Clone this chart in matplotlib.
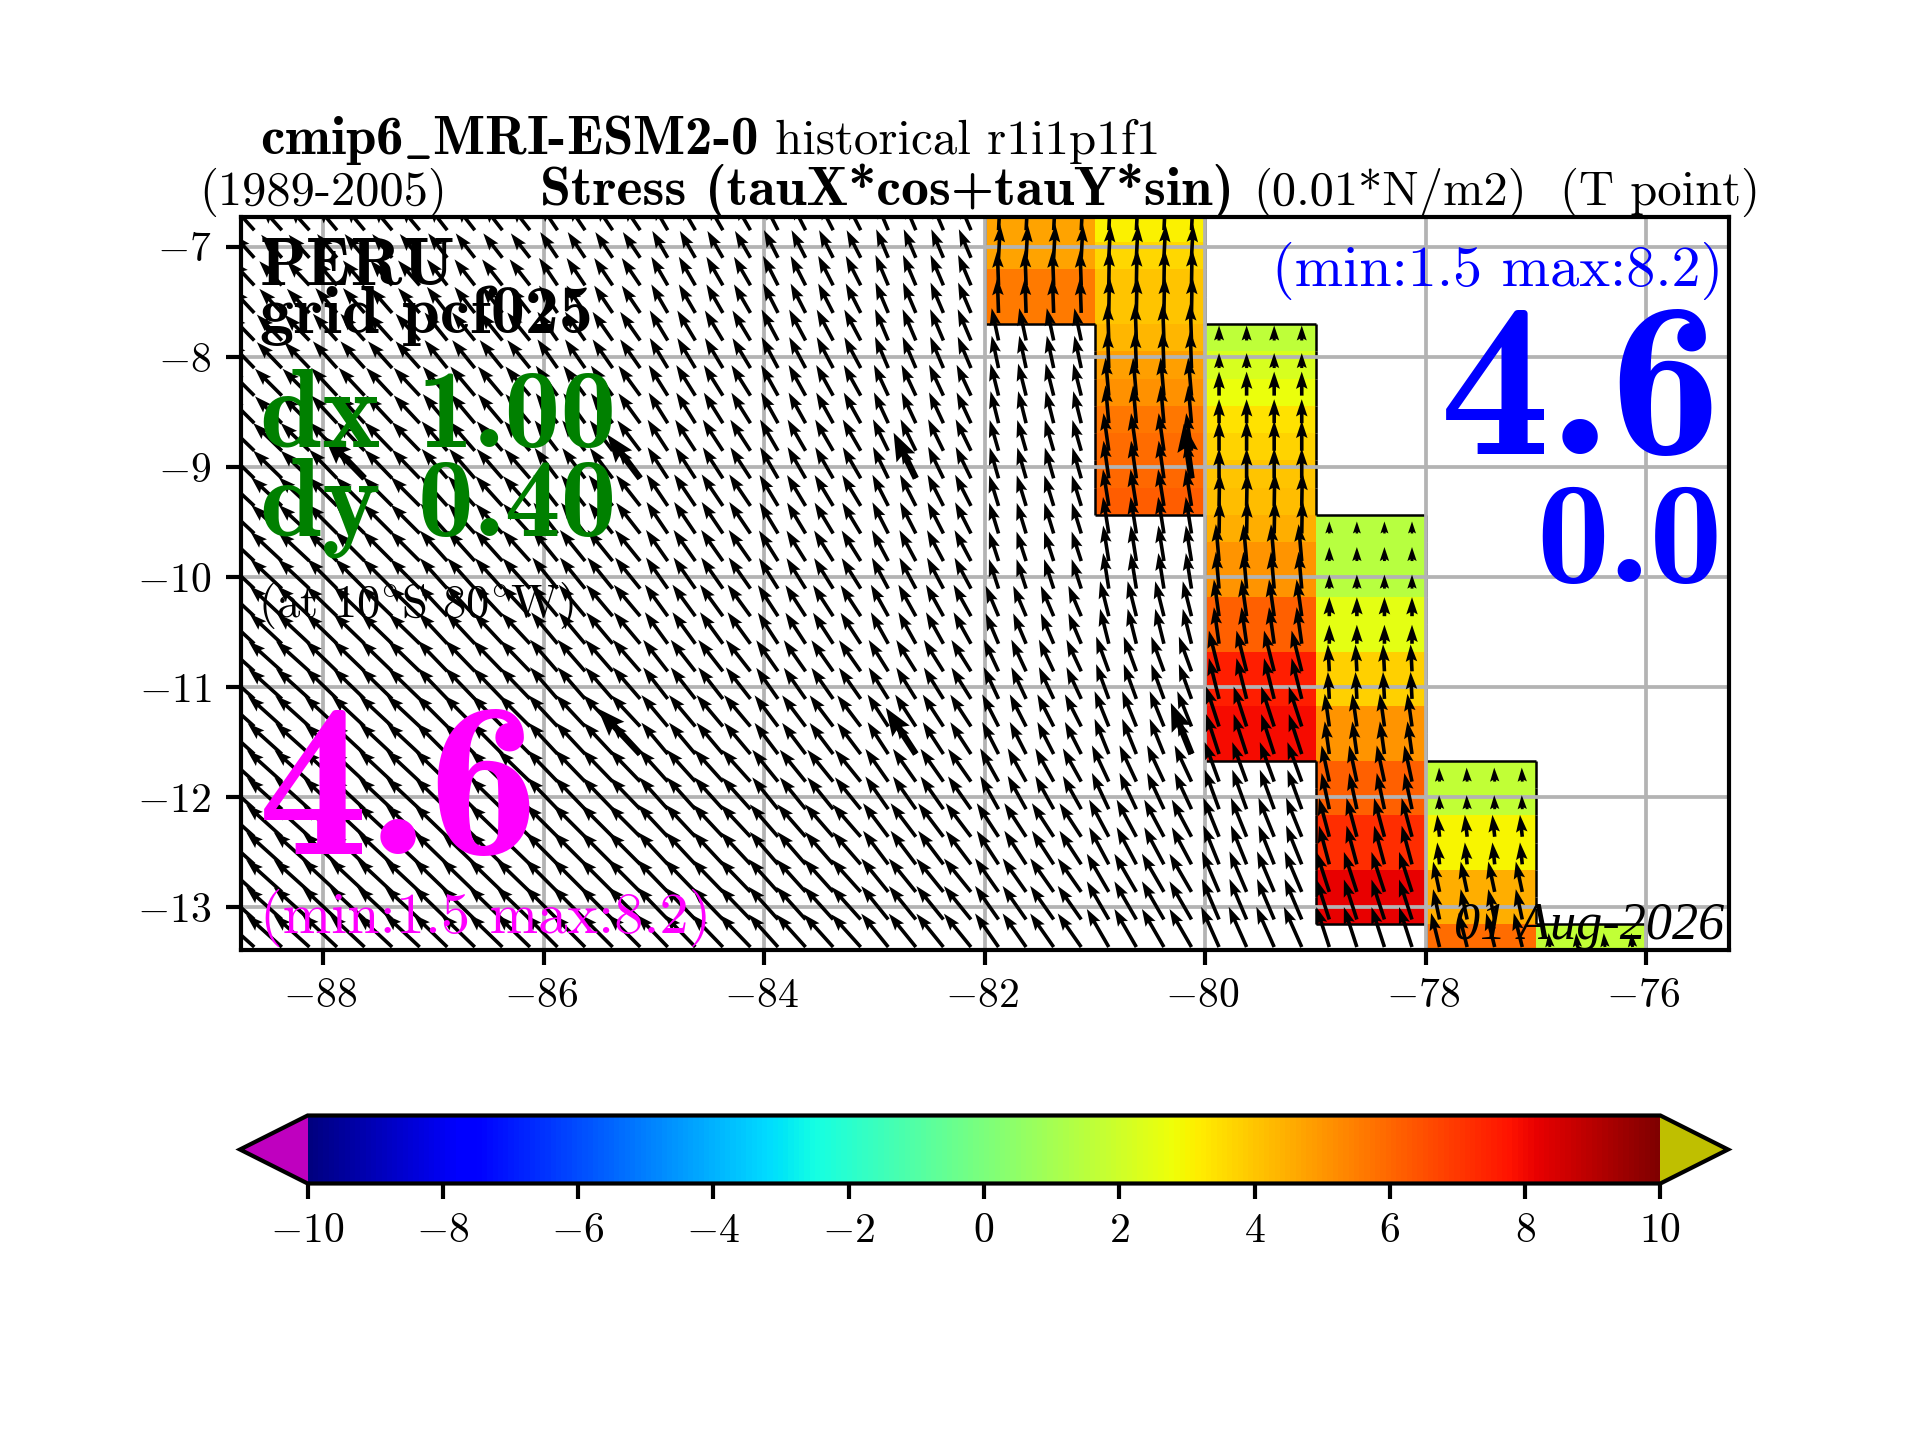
import numpy as np
import matplotlib
matplotlib.use("Agg")
import matplotlib.pyplot as plt
from matplotlib.collections import LineCollection
from matplotlib.transforms import ScaledTranslation

plt.rcParams['font.family'] = ['cmr10']
plt.rcParams['mathtext.fontset'] = 'cm'
plt.rcParams['axes.formatter.use_mathtext'] = True
plt.rcParams['axes.unicode_minus'] = True

# --- data -------------------------------------------------------------------
cell_lon_edges = [-82, -81, -80, -79, -78, -77, -76]
cell_lat_top = -6.71
cell_dlat = 0.248
n_rows = 27
# first row index and coloured values (top to bottom) of each 1-degree column
col_first = [0, 0, 4, 11, 20, 26]
col_vals = [
    [4.7, 4.7, 5.6, 5.6],
    [3.1, 3.6, 4.0, 4.0, 4.3, 4.8, 5.1, 5.7, 5.9, 6.0, 6.2],
    [1.6, 2.2, 2.7, 3.4, 3.7, 4.0, 4.2, 4.5, 5.0, 5.0, 6.1, 6.1, 7.5, 7.5, 7.9, 7.9],
    [1.45, 1.45, 1.45, 2.5, 2.5, 3.8, 3.8, 5.0, 5.0, 6.1, 6.1, 7.2, 7.2, 8.2, 8.2],
    [1.7, 1.7, 3.0, 3.0, 4.5, 4.5, 5.9],
    [1.7],
]

# arrow field: 1-degree columns, 0.5-degree rows
arrow_lon0 = -88.625
arrow_dlon = 0.25
arrow_lat0 = -6.85
arrow_dlat = 0.2505
col_repeat = [3] + [4] * 12
row_repeat = [2] * 13 + [1]
# angle of arrows from north towards west (degrees)
angle_tbl = [
    [42, 40, 38, 34, 30, 27, 23, -3, -3, 0, 0, 0, 0],
    [43, 41, 38, 34, 30, 27, 23, 2, -1, 0, 0, 0, 0],
    [44, 42, 39, 35, 31, 28, 23, 12, 2, 0, 0, 0, 0],
    [45, 43, 40, 36, 32, 29, 25, 14, 5, 0, 0, 0, 0],
    [46, 44, 41, 37, 33, 30, 26, 16, 8, 0, 0, 0, 0],
    [47, 45, 42, 38, 34, 31, 27, 17, 9, -1, 0, 0, 0],
    [47, 45, 42, 39, 35, 32, 28, 18, 9, 5, 0, 0, 0],
    [47, 46, 43, 40, 36, 33, 29, 23, 14, 8, 0, 0, 0],
    [48, 46, 44, 41, 38, 35, 32, 25, 20, 14, 3, 0, 0],
    [48, 47, 45, 43, 40, 37, 33, 27, 22, 18, 8, 0, 0],
    [48, 47, 46, 44, 42, 39, 35, 29, 25, 20, 12, 2, 0],
    [48, 47, 46, 45, 43, 41, 37, 33, 28, 22, 15, 6, 0],
    [48, 47, 46, 45, 44, 42, 39, 35, 30, 23, 18, 12, 0],
    [48, 47, 46, 45, 44, 42, 39, 35, 30, 24, 18, 14, 5],
]
# arrow lengths
length_tbl = [
    [31, 31, 31, 31, 31, 31, 31, 33, 33, 0, 0, 0, 0],
    [33, 33, 33, 33, 33, 33, 33, 35, 36, 0, 0, 0, 0],
    [36, 36, 36, 35, 35, 35, 34, 33, 37, 15, 0, 0, 0],
    [38, 38, 38, 37, 36, 35, 34, 33, 38, 24, 0, 0, 0],
    [40, 40, 39, 38, 37, 36, 35, 32, 38, 30, 0, 0, 0],
    [42, 41, 40, 39, 38, 36, 35, 32, 37, 33, 12, 0, 0],
    [43, 42, 41, 40, 38, 36, 35, 31, 36, 37, 14, 0, 0],
    [44, 43, 42, 41, 39, 37, 36, 33, 36, 37, 19, 0, 0],
    [45, 44, 43, 42, 40, 38, 37, 35, 37, 42, 27, 0, 0],
    [46, 45, 44, 43, 41, 39, 38, 36, 38, 42, 33, 0, 0],
    [47, 46, 45, 44, 43, 41, 40, 38, 40, 42, 37, 14, 0],
    [48, 47, 46, 45, 44, 43, 42, 40, 42, 42, 40, 22, 0],
    [48, 48, 47, 46, 45, 44, 43, 41, 44, 44, 42, 31, 0],
    [48, 48, 47, 46, 45, 44, 43, 41, 44, 44, 42, 35, 14],
]
# easternmost arrow column (longitude bound) for each row
east_bound = [-80] * 4 + [-79] * 7 + [-78] * 9 + [-77] * 6 + [-76]
# sparse set of heavier arrows (row, column)
big_rows = [9, 9, 9, 9, 19, 19, 19]
big_cols = [4, 14, 24, 34, 14, 24, 34]
big_stretch = 1.45

x_ticks = [-88, -86, -84, -82, -80, -78, -76]
y_ticks = [-7, -8, -9, -10, -11, -12, -13]
cbar_ticks = [-10, -8, -6, -4, -2, 0, 2, 4, 6, 8, 10]

# --- figure -----------------------------------------------------------------
W, H = 1920, 1440
fig = plt.figure(figsize=(6.4, 4.8), dpi=300)
ax = fig.add_axes([240.5 / W, 1 - 950 / H, (1729 - 240.5) / W, (950 - 217) / H])
ax.set_xlim(-88.75, -75.25)
ax.set_ylim(-13.39, -6.73)

# cell field
lat_edges = cell_lat_top - cell_dlat * np.arange(n_rows + 1)
Z = np.full((n_rows, len(cell_lon_edges) - 1), np.nan)
for j, (first, vals) in enumerate(zip(col_first, col_vals)):
    Z[first:first + len(vals), j] = vals
Zm = np.ma.masked_invalid(Z)
cmap = plt.get_cmap('jet').copy()
cmap.set_under((0.75, 0, 0.75))
cmap.set_over((0.75, 0.75, 0))
mesh = ax.pcolormesh(cell_lon_edges, lat_edges, Zm, cmap=cmap, vmin=-10, vmax=10, zorder=1)

# outline of coloured cells
segs = []
P = np.pad(~np.isnan(Z), 1, constant_values=False)
for r in range(n_rows + 1):
    for c in range(len(cell_lon_edges) - 1):
        if P[r, c + 1] != P[r + 1, c + 1]:
            segs.append([(cell_lon_edges[c], lat_edges[r]), (cell_lon_edges[c + 1], lat_edges[r])])
for r in range(n_rows):
    for c in range(len(cell_lon_edges)):
        if P[r + 1, c] != P[r + 1, c + 1]:
            segs.append([(cell_lon_edges[c], lat_edges[r]), (cell_lon_edges[c], lat_edges[r + 1])])
ax.add_collection(LineCollection(segs, colors='k', linewidths=0.6, zorder=2))

# arrows
ang = np.repeat(np.repeat(np.array(angle_tbl, float), row_repeat, axis=0), col_repeat, axis=1)
spd = np.repeat(np.repeat(np.array(length_tbl, float), row_repeat, axis=0), col_repeat, axis=1)
lons = arrow_lon0 + arrow_dlon * np.arange(ang.shape[1])
lats = arrow_lat0 - arrow_dlat * np.arange(ang.shape[0])
LON, LAT = np.meshgrid(lons, lats)
U = -spd * np.sin(np.radians(ang))
V = spd * np.cos(np.radians(ang))
keep = (LON < np.array(east_bound)[:, None]) & (spd > 0)
ax.quiver(LON[keep], LAT[keep], U[keep], V[keep], angles='uv', scale_units='dots', scale=1,
          units='dots', width=3.6, headwidth=3.2, headlength=4.8, headaxislength=4.2,
          color='k', zorder=3)
ax.quiver(LON[big_rows, big_cols], LAT[big_rows, big_cols],
          big_stretch * U[big_rows, big_cols], big_stretch * V[big_rows, big_cols],
          angles='uv', scale_units='dots', scale=1, units='dots', width=6.5,
          headwidth=3.2, headlength=4.3, headaxislength=3.8, color='k', zorder=3)

ax.set_xticks(x_ticks)
ax.set_yticks(y_ticks)
ax.grid(True, color=(0.7, 0.7, 0.7), lw=0.9, zorder=4)
ax.set_axisbelow(False)
ax.tick_params(labelsize=10, width=1, length=3.5)
ax.tick_params(axis='x', pad=3)
for s in ax.spines.values():
    s.set_linewidth(1)
    s.set_zorder(6)
shift = ScaledTranslation(-3 / 300, 0, fig.dpi_scale_trans)
for lab in ax.get_xticklabels():
    lab.set_transform(lab.get_transform() + shift)


def T(x, y, s, size, color='k', font='cmr10', ha='left', **kw):
    fig.text(x / W, 1 - y / H, s, fontsize=size, color=color, family=font, ha=ha, va='baseline', zorder=10, **kw)


# titles
T(260, 154, r'cmip6$\_$MRI-ESM2-0', 13.2, font='cmb10')
T(775, 154, 'historical r1i1p1f1', 11.75)
T(199, 205, '(1989-2005)', 11.65)
T(540, 205, 'Stress (tauX*cos+tauY*sin)', 13.4, font='cmb10')
T(1253, 205, '(0.01*N/m2)', 11.65)
T(1560, 205, '(T point)', 11.7)

# annotations
T(260, 285, 'PERU', 16.4, font='cmb10')
T(260, 333, 'grid pcf025', 16.3, font='cmb10')
T(260, 447, 'dx 1.00', 26.8, color='green', font='cmb10')
T(260, 535, 'dy 0.40', 26.8, color='green', font='cmb10')
T(258, 617, r'(at 10$^{\circ}$S 80$^{\circ}$W)', 11.2)
T(258, 854, '4.6', 53, color='magenta', font='cmb10')
T(711, 933, '(min:1.5 max:8.2)', 14, color='magenta', ha='right')
T(1723, 286, '(min:1.5 max:8.2)', 14, color='blue', ha='right')
T(1722, 454, '4.6', 53, color='blue', font='cmb10', ha='right')
T(1723, 582, '0.0', 35, color='blue', font='cmb10', ha='right')
T(1724, 939, '01 Aug-2026', 12.5, font='Liberation Serif', ha='right', style='italic')

# colour bar
cax = fig.add_axes([240 / W, 1 - 1183.5 / H, (1728 - 240) / W, (1183.5 - 1115.5) / H])
cb = fig.colorbar(mesh, cax=cax, orientation='horizontal', extend='both', ticks=cbar_ticks)
cb.ax.tick_params(labelsize=10, width=1, length=3.5, pad=3.5)
cb.outline.set_linewidth(1)

fig.savefig('out.png', dpi=300)
